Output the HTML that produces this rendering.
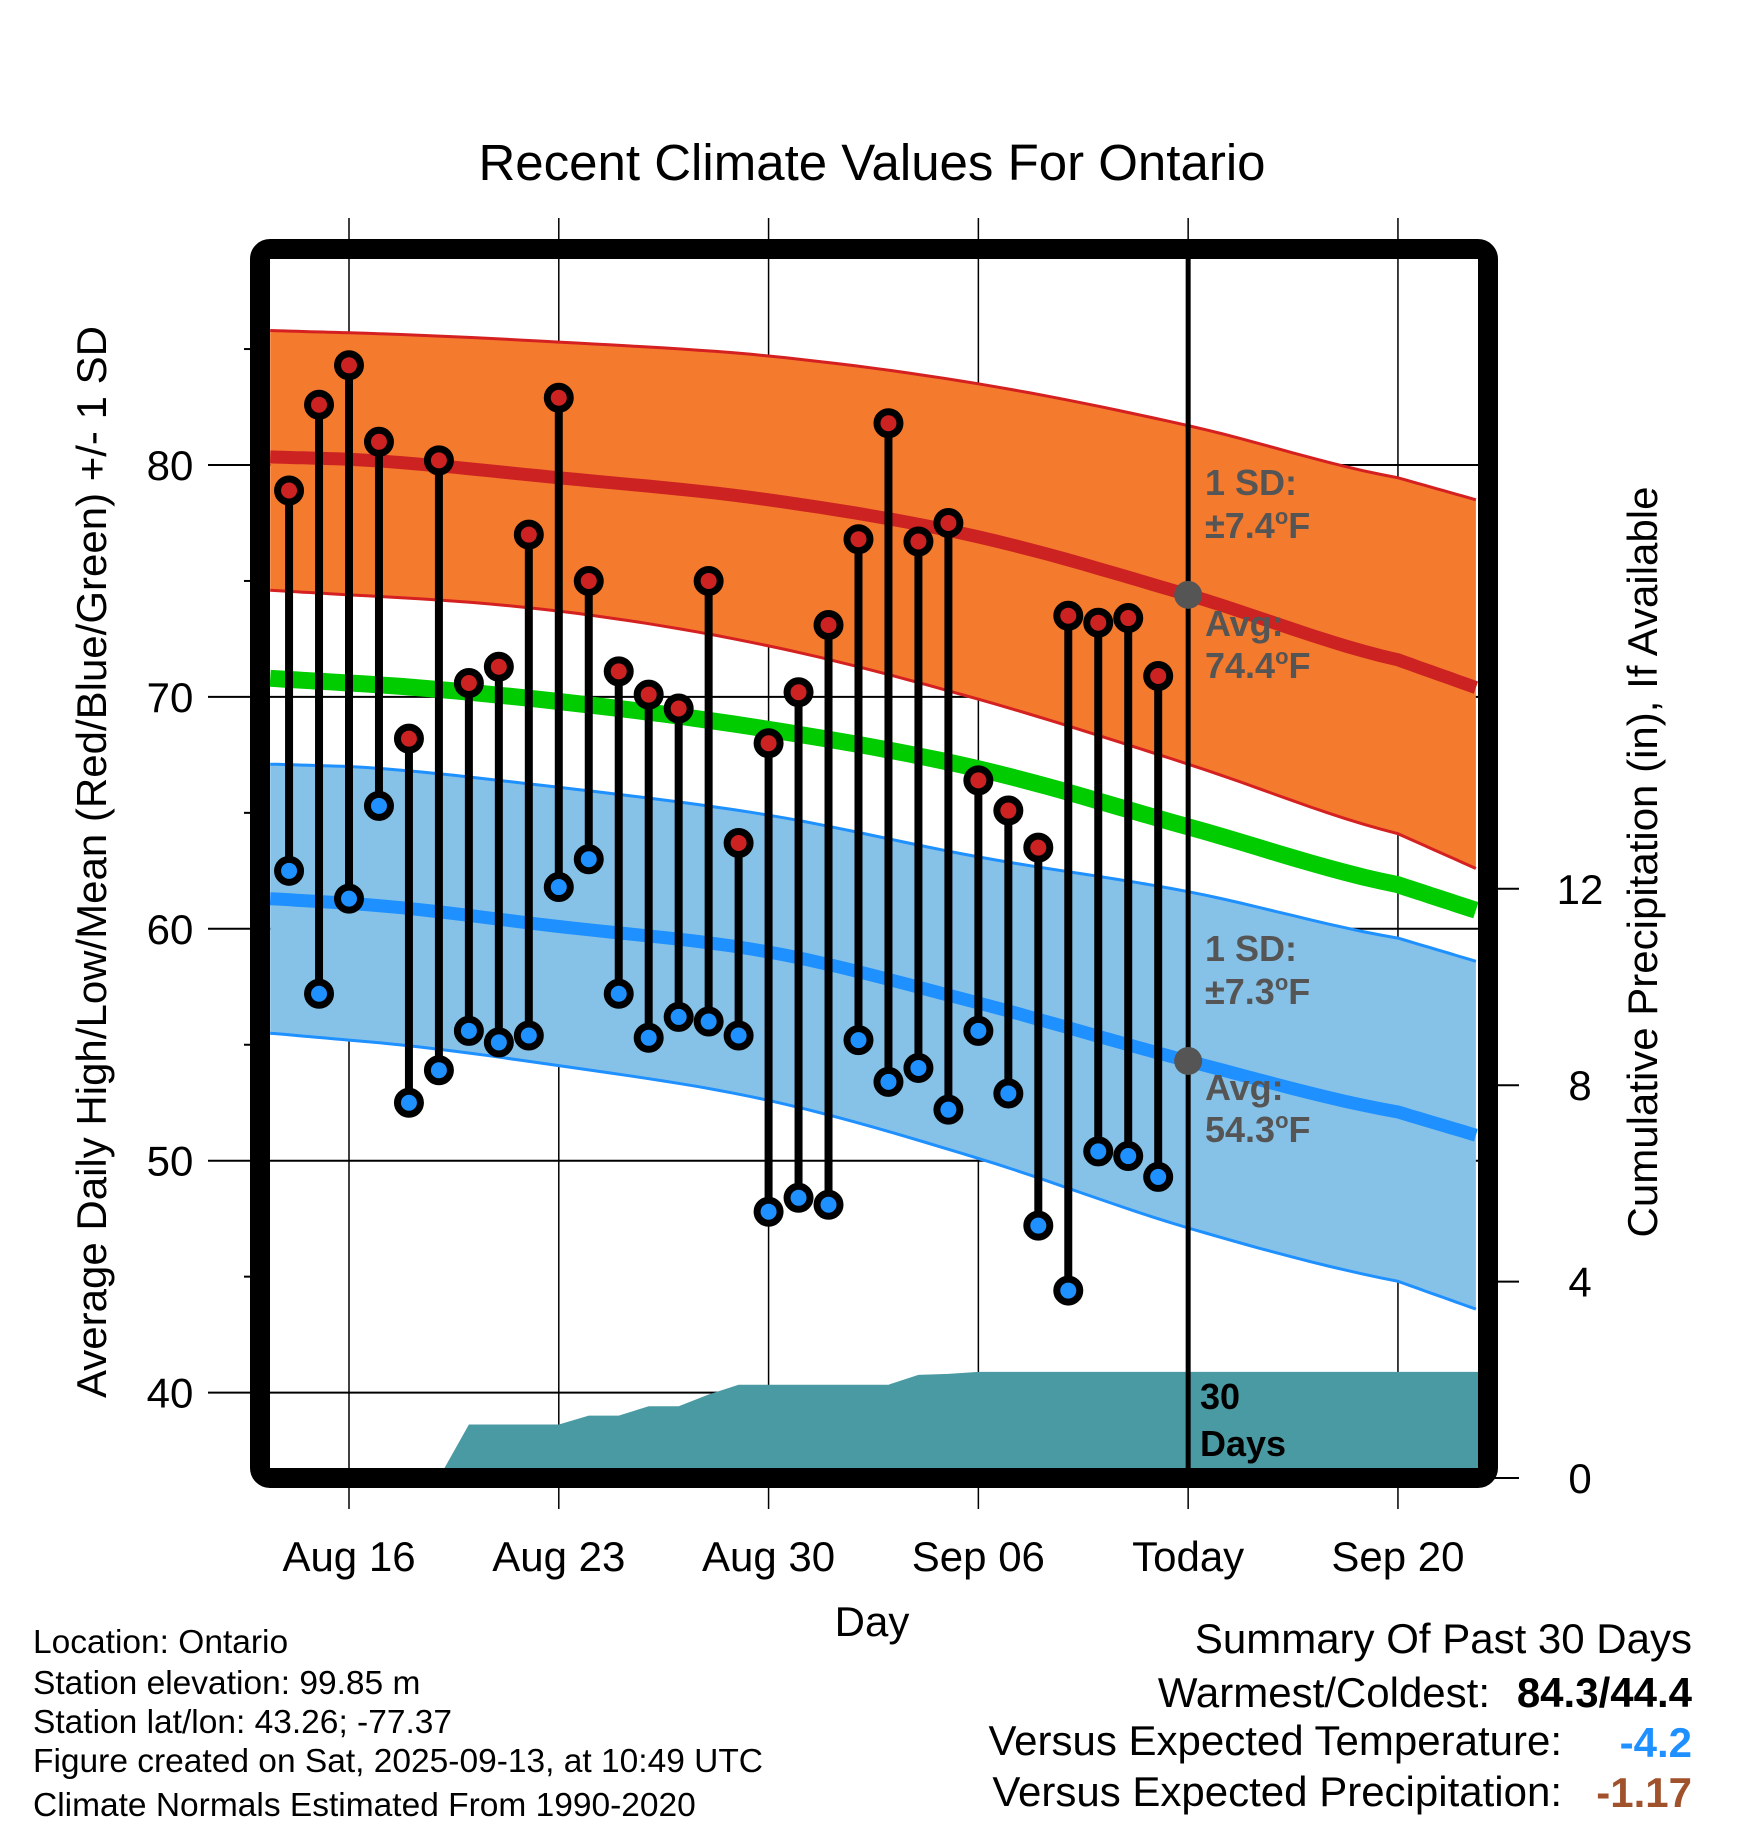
<!DOCTYPE html>
<html><head><meta charset="utf-8"><style>
html,body{margin:0;padding:0;background:#fff;}
svg{display:block;font-family:"Liberation Sans",Arial,sans-serif;}
</style></head><body>
<svg id="chart" width="1748" height="1828" viewBox="0 0 1748 1828" xmlns="http://www.w3.org/2000/svg">
<defs><clipPath id="plotclip"><rect x="270" y="259" width="1208" height="1209"/></clipPath></defs>
<rect width="1748" height="1828" fill="#fff"/>
<g id="gridlayer"></g>
<g id="plotlayer" clip-path="url(#plotclip)"></g>
<g id="marklayer"></g>
<rect x="260" y="249" width="1228" height="1229" rx="10" fill="none" stroke="#000" stroke-width="20"/>
<g id="axislayer"></g>
<text x="872" y="180" font-size="51" text-anchor="middle">Recent Climate Values For Ontario</text>
<text transform="translate(106,862) rotate(-90)" font-size="42" text-anchor="middle">Average Daily High/Low/Mean (Red/Blue/Green) +/- 1 SD</text>
<text transform="translate(1657,862) rotate(-90)" font-size="42" text-anchor="middle">Cumulative Precipitation (in), If Available</text>
<text x="872" y="1636" font-size="42" text-anchor="middle">Day</text>
<g font-size="33.5">
<text x="33" y="1653">Location: Ontario</text>
<text x="33" y="1694">Station elevation: 99.85 m</text>
<text x="33" y="1733">Station lat/lon: 43.26; -77.37</text>
<text x="33" y="1772">Figure created on Sat, 2025-09-13, at 10:49 UTC</text>
<text x="33" y="1816">Climate Normals Estimated From 1990-2020</text>
</g>
<g font-size="42">
<text x="1692" y="1653" text-anchor="end">Summary Of Past 30 Days</text>
<text x="1490" y="1707" text-anchor="end">Warmest/Coldest:</text>
<text x="1692" y="1707" text-anchor="end" font-weight="bold">84.3/44.4</text>
<text x="1562" y="1755" text-anchor="end">Versus Expected Temperature:</text>
<text x="1692" y="1757" text-anchor="end" font-weight="bold" fill="#1e90ff">-4.2</text>
<text x="1562" y="1806" text-anchor="end">Versus Expected Precipitation:</text>
<text x="1692" y="1807" text-anchor="end" font-weight="bold" fill="#a0522d">-1.17</text>
</g>
</svg>
<script>
// Normals at node days (days offset from Aug 16)
const normDays = [-2.63, 0, 7, 14, 21, 28, 35, 37.6];
const normHigh = [80.35, 80.25, 79.45, 78.5, 76.9, 74.4, 71.6, 70.4];
const normHighUpper = [85.8, 85.7, 85.3, 84.7, 83.5, 81.7, 79.45, 78.5];
const normHighLower = [74.6, 74.4, 73.7, 72.2, 69.9, 67.1, 64.1, 62.6];
const normMean = [70.8, 70.6, 69.8, 68.6, 66.9, 64.4, 61.9, 60.8];
const normLow = [61.3, 61.1, 60.1, 59.0, 56.8, 54.3, 52.1, 51.1];
const normLowUpper = [67.1, 67.0, 66.1, 64.9, 63.1, 61.6, 59.6, 58.6];
const normLowLower = [55.5, 55.2, 54.1, 52.6, 50.1, 47.1, 44.8, 43.6];
// Observations Aug 14 .. Sep 12 (day offsets -2..27)
const obsDays = [-2,-1,0,1,2,3,4,5,6,7,8,9,10,11,12,13,14,15,16,17,18,19,20,21,22,23,24,25,26,27];
const obsHigh = [78.9,82.6,84.3,81.0,68.2,80.2,70.6,71.3,77.0,82.9,75.0,71.1,70.1,69.5,75.0,63.7,68.0,70.2,73.1,76.8,81.8,76.7,77.5,66.4,65.1,63.5,73.5,73.2,73.4,70.9];
const obsLow = [62.5,57.2,61.3,65.3,52.5,53.9,55.6,55.1,55.4,61.8,63.0,57.2,55.3,56.2,56.0,55.4,47.8,48.4,48.1,55.2,53.4,54.0,52.2,55.6,52.9,47.2,44.4,50.4,50.2,49.3];
const precipCum = [0,0,0,0,0,0,1.09,1.09,1.09,1.09,1.27,1.27,1.46,1.46,1.7,1.9,1.9,1.9,1.9,1.9,1.9,2.1,2.12,2.16,2.16,2.16,2.16,2.16,2.16,2.16];
const tempTicks = [40,50,60,70,80];
const minorTicks = [45,55,65,75,85];
const precipTicks = [0,4,8,12];
const dateTicks = [0,7,14,21,28,35];
const dateLabels = ["Aug 16","Aug 23","Aug 30","Sep 06","Today","Sep 20"];
const todayDay = 28;
const todayHigh = 74.4, todayLow = 54.3;

const NS="http://www.w3.org/2000/svg";
const xS = d => 349 + d*29.97;
const yS = v => 465 + (80 - v)*23.19;
const pS = p => 1478 - p*49.1;
function mk(tag, attrs, parent){const e=document.createElementNS(NS,tag);for(const k in attrs)e.setAttribute(k,attrs[k]);parent.appendChild(e);return e;}
const grid=document.getElementById('gridlayer'), plot=document.getElementById('plotlayer'), marks=document.getElementById('marklayer'), axis=document.getElementById('axislayer');
// smooth sampling: Catmull-Rom on interior segments, linear on end segments
function pts(arr){
  const out=[];const n=normDays.length;
  for(let i=0;i<n-1;i++){
    const p0=arr[Math.max(0,i-1)],p1=arr[i],p2=arr[i+1],p3=arr[Math.min(n-1,i+2)];
    const d1=normDays[i],d2=normDays[i+1];
    const lin=(i===0||i===n-2);
    const steps=12;
    for(let s=0;s<steps;s++){
      const t=s/steps;
      const v=lin? p1+(p2-p1)*t : 0.5*((2*p1)+(-p0+p2)*t+(2*p0-5*p1+4*p2-p3)*t*t+(-p0+3*p1-3*p2+p3)*t*t*t);
      out.push(xS(d1+(d2-d1)*t).toFixed(1)+','+yS(v).toFixed(1));
    }
  }
  out.push(xS(normDays[n-1]).toFixed(1)+','+yS(arr[n-1]).toFixed(1));
  return out;
}

let e;
e=mk('polygon',{points:pts(normHighUpper).concat(pts(normHighLower).reverse()).join(' '),fill:'#f47a2d',stroke:'none'},plot);


e=mk('polygon',{points:pts(normLowUpper).concat(pts(normLowLower).reverse()).join(' '),fill:'#86c2e8',stroke:'none'},plot);


[[normHighUpper,'#d42020',3,'high-upper-line'],[normHighLower,'#d42020',3,'high-lower-line'],[normLowUpper,'#1e90ff',3,'low-upper-line'],[normLowLower,'#1e90ff',3,'low-lower-line'],[normHigh,'#cc2222',13,'avg-high-line'],[normMean,'#00cc00',17,'avg-mean-line'],[normLow,'#1e90ff',13,'avg-low-line']].forEach(s=>{
  const l=mk('polyline',{points:pts(s[0]).join(' '),fill:'none',stroke:s[1],'stroke-width':s[2]},plot);
  
  
});
let pp=[xS(obsDays[0]).toFixed(1)+','+pS(0)];
obsDays.forEach((d,i)=>pp.push(xS(d).toFixed(1)+','+pS(precipCum[i]).toFixed(1)));
pp.push('1480,'+pS(precipCum[precipCum.length-1]).toFixed(1));
pp.push('1480,'+pS(0));
e=mk('polygon',{points:pp.join(' '),fill:'#4a9aa3'},plot);



tempTicks.forEach(v=>{
  const l=mk('line',{x1:208,x2:1478,y1:yS(v),y2:yS(v),stroke:'#000','stroke-width':2},grid);
  
  
  const t=mk('text',{x:170,y:yS(v)+15,'font-size':42,'text-anchor':'middle'},axis);
  t.textContent=v;
  
  
});
minorTicks.forEach(v=>{
  const l=mk('line',{x1:244,x2:252,y1:yS(v),y2:yS(v),stroke:'#000','stroke-width':2},grid);
  
  
});
dateTicks.forEach((d,i)=>{
  const l=mk('line',{x1:xS(d),x2:xS(d),y1:218,y2:1509,stroke:'#000','stroke-width':1.5},grid);
  
  
  const t=mk('text',{x:xS(d),y:1571,'font-size':42,'text-anchor':'middle'},axis);
  t.textContent=dateLabels[i];
  
  
});
precipTicks.forEach(p=>{
  const l=mk('line',{x1:1488,x2:1519,y1:pS(p),y2:pS(p),stroke:'#000','stroke-width':2},axis);
  
  
  const t=mk('text',{x:1580,y:pS(p)+15,'font-size':42,'text-anchor':'middle'},axis);
  t.textContent=p;
  
  
});

obsDays.forEach((d,i)=>{
  const x=xS(d);
  const s=mk('line',{x1:x,x2:x,y1:yS(obsHigh[i]),y2:yS(obsLow[i]),stroke:'#000','stroke-width':8},marks);
  
  
});
obsDays.forEach((d,i)=>{
  const x=xS(d);
  const h=mk('circle',{cx:x,cy:yS(obsHigh[i]),r:11.5,fill:'#cc2222',stroke:'#000','stroke-width':7},marks);
  
  
  const lo=mk('circle',{cx:x,cy:yS(obsLow[i]),r:11.5,fill:'#1e90ff',stroke:'#000','stroke-width':7},marks);
  
  
});
e=mk('line',{x1:xS(todayDay),x2:xS(todayDay),y1:259,y2:1470,stroke:'#000','stroke-width':5},marks);


e=mk('circle',{cx:xS(todayDay),cy:yS(todayHigh),r:14,fill:'#555'},marks);


e=mk('circle',{cx:xS(todayDay),cy:yS(todayLow),r:14,fill:'#555'},marks);



function ann(txt,x,y,col,name){
  const t=mk('text',{x:x,y:y,'font-size':36,'font-weight':'bold',fill:col},marks);
  t.innerHTML=txt;
  
  
}
ann('1 SD:',1205,495,'#555','high-sd-label');
ann('±7.4<tspan font-size="22" dy="-14">o</tspan><tspan dy="14">F</tspan>',1205,538,'#555','high-sd-value');
ann('Avg:',1205,636,'#555','high-avg-label');
ann('74.4<tspan font-size="22" dy="-14">o</tspan><tspan dy="14">F</tspan>',1205,678,'#555','high-avg-value');
ann('1 SD:',1205,961,'#555','low-sd-label');
ann('±7.3<tspan font-size="22" dy="-14">o</tspan><tspan dy="14">F</tspan>',1205,1004,'#555','low-sd-value');
ann('Avg:',1205,1100,'#555','low-avg-label');
ann('54.3<tspan font-size="22" dy="-14">o</tspan><tspan dy="14">F</tspan>',1205,1142,'#555','low-avg-value');
ann('30',1200,1409,'#000','precip-days-label');
ann('Days',1200,1456,'#000','precip-days-label2');
</script>
</body></html>
